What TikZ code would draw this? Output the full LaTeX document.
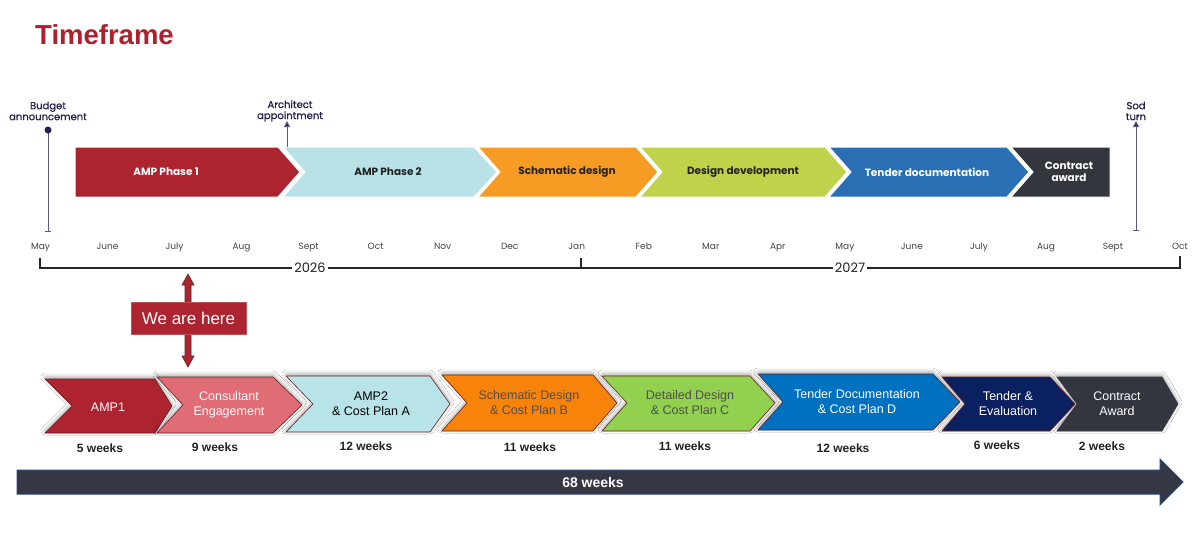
\documentclass[tikz,border=0pt]{standalone}
\usepackage{fontspec}
\setmainfont{Liberation Sans}
\newfontfamily\pop{Poppins}
\newfontfamily\popm{Poppins}[FakeBold=0.8]
\usetikzlibrary{shadows.blur,arrows.meta,calc}
\definecolor{tred}{HTML}{B0202C}
\definecolor{cA}{HTML}{AC2430}
\definecolor{cB}{HTML}{B8E2E6}
\definecolor{cC}{HTML}{F69C24}
\definecolor{cD}{HTML}{C0D24A}
\definecolor{cE}{HTML}{2A6FB4}
\definecolor{cF}{HTML}{33363D}
\definecolor{bA}{HTML}{AD2330}
\definecolor{bB}{HTML}{E06C75}
\definecolor{bC}{HTML}{B8E3E8}
\definecolor{bD}{HTML}{F7830A}
\definecolor{bE}{HTML}{92D050}
\definecolor{bF}{HTML}{0070C0}
\definecolor{bG}{HTML}{0B2060}
\definecolor{bH}{HTML}{33363F}
\definecolor{navy}{HTML}{24214F}
\definecolor{pline}{HTML}{5C5883}
\definecolor{chevline}{HTML}{6B2020}
\definecolor{txt}{HTML}{222222}
\definecolor{mon}{HTML}{444444}
\definecolor{bigarrow}{HTML}{353844}
\definecolor{bigline}{HTML}{2C4677}
\tikzset{
  tchev/.style={draw=white,line width=1pt},
  ttext/.style={font=\pop\bfseries\fontsize{10.5}{12}\selectfont,align=center},
  bchev/.style={draw=chevline,line width=0.6pt,blur shadow={shadow xshift=0pt,shadow yshift=2pt,shadow blur radius=4pt,shadow opacity=35}},
  btext/.style={font=\fontsize{12.5}{15}\selectfont,align=center},
  wk/.style={font=\bfseries\fontsize{12}{14}\selectfont,text=txt},
  month/.style={font=\pop\fontsize{9}{10}\selectfont,text=mon,anchor=base},
  marker/.style={font=\popm\fontsize{10}{11}\selectfont,text=navy,align=center},
}
\begin{document}
\begin{tikzpicture}[x=1pt,y=-1pt]
\useasboundingbox (0,0) rectangle (1200,557);
\fill[white] (0,0) rectangle (1200,557);
% title
\node[anchor=west,text=tred,font=\bfseries\fontsize{27.5}{30}\selectfont,inner sep=0] (title) at (35,35) {Timeframe};

% top chevrons
\fill[cA,tchev] (75,147) -- (278,147) -- (300,172) -- (278,197) -- (75,197) -- cycle;
\fill[cB,tchev] (283,147) -- (474,147) -- (497,172) -- (474,197) -- (283,197) -- (305,172) -- cycle;
\fill[cC,tchev] (478,147) -- (636,147) -- (658,172) -- (636,197) -- (478,197) -- (500,172) -- cycle;
\fill[cD,tchev] (640,147) -- (825,147) -- (847,172) -- (825,197) -- (640,197) -- (662,172) -- cycle;
\fill[cE,tchev] (829,147) -- (1007,147) -- (1029,172) -- (1007,197) -- (829,197) -- (851,172) -- cycle;
\fill[cF,tchev] (1011,147) -- (1110,147) -- (1110,197) -- (1011,197) -- (1033,172) -- cycle;
\node[ttext,text=white] (t1) at (166,172) {AMP Phase 1};
\node[ttext,text=txt] (t2) at (388,172) {AMP Phase 2};
\node[ttext,text=txt] (t3) at (567,172) {Schematic design};
\node[ttext,text=txt] (t4) at (743,172) {Design development};
\node[ttext,text=white] (t5) at (927,172) {Tender documentation};
\node[ttext,text=white] (t6) at (1069,172) {Contract\\award};

% markers
\node[marker] (budget) at (48,111) {Budget\\announcement};
\node[marker] (arch) at (290,111) {Architect\\appointment};
\node[marker] (sod) at (1136,111) {Sod\\turn};
\coordinate (bdot) at (48,130);
\coordinate (bbot) at (48,231);
\draw[pline,line width=1pt] (bdot) -- (bbot);
\draw[pline,line width=1pt] ($(bbot)+(-3,0)$) -- ($(bbot)+(3,0)$);
\fill[navy] (bdot) circle (3.5);
\coordinate (abot) at (287,147);
\coordinate (atop) at (287,121);
\draw[pline,line width=1pt,-{Triangle[length=6pt,width=6pt,fill=navy]}] (abot) -- (atop);
\coordinate (sbot) at (1136,230);
\coordinate (stop) at (1136,121);
\draw[pline,line width=1pt,-{Triangle[length=6pt,width=6pt,fill=navy]}] (sbot) -- (stop);
\draw[pline,line width=1pt] ($(sbot)+(-3,0)$) -- ($(sbot)+(3,0)$);

% months
\foreach \m [count=\i from 0] in {May,June,July,Aug,Sept,Oct,Nov,Dec,Jan,Feb,Mar,Apr,May,June,July,Aug,Sept,Oct}{
  \node[month] (m\i) at ({40.5+67.03*\i},249.5) {\m};
}
\coordinate (ya) at (40,258);
\coordinate (yb) at (40,268);
\coordinate (yc) at (1180,268);
\coordinate (yd) at (1180,256);
\draw[black!85,line width=1.2pt] (ya) -- (yb) -- (yc) -- (yd);
\draw[black!85,line width=1.2pt] (581,258) -- (581,268);
\node[fill=white,inner sep=2pt,font=\pop\fontsize{13}{14}\selectfont,text=txt] (y26) at (310,268) {2026};
\node[fill=white,inner sep=2pt,font=\pop\fontsize{13}{14}\selectfont,text=txt] (y27) at (850,268) {2027};

% we are here
\draw[fill=cA,draw=chevline,line width=0.6pt] (188,274) -- (194,285) -- (191,285) -- (191,356) -- (194,356) -- (188,367) -- (182,356) -- (185,356) -- (185,285) -- (182,285) -- cycle;
\node[fill=cA,draw=cA!80!white,minimum width=115pt,minimum height=32pt,inner sep=0,text=white,font=\fontsize{17}{19}\selectfont] (here) at (188.5,318.5) {We are here};

% bottom chevrons
\draw[bchev,fill=bA] (45,379) -- (155,379) -- (172,406) -- (155,433) -- (45,433) -- (72,406) -- cycle;
\draw[bchev,fill=bB] (157,377) -- (273,377) -- (302,405) -- (273,433) -- (157,433) -- (183,405) -- cycle;
\draw[bchev,fill=bC] (286,376) -- (430,376) -- (450,404) -- (430,432) -- (286,432) -- (313,404) -- cycle;
\draw[bchev,fill=bD] (442,375) -- (593,375) -- (617,403) -- (593,431) -- (442,431) -- (467,403) -- cycle;
\draw[bchev,fill=bE] (602,376) -- (750,376) -- (775,403) -- (750,431) -- (602,431) -- (627,403) -- cycle;
\draw[bchev,fill=bF] (758,374) -- (933,374) -- (960,402) -- (933,430) -- (758,430) -- (783,402) -- cycle;
\draw[bchev,fill=bG] (942,377) -- (1050,377) -- (1075,404) -- (1050,431) -- (942,431) -- (965,404) -- cycle;
\draw[bchev,fill=bH,draw=bH] (1057,377) -- (1162,377) -- (1178,404) -- (1162,431) -- (1057,431) -- (1077,404) -- cycle;
\node[btext,text=white] (s1) at (108,407) {AMP1};
\node[btext,text=white] (s2) at (229,405) {Consultant\\Engagement};
\node[btext,text=black] (s3) at (371,404) {AMP2\\\& Cost Plan A};
\node[btext,text=txt!80!white] (s4) at (529,403) {Schematic Design\\\& Cost Plan B};
\node[btext,text=txt!80!white] (s5) at (690,403) {Detailed Design\\\& Cost Plan C};
\node[btext,text=white] (s6) at (857,402) {Tender Documentation\\\& Cost Plan D};
\node[btext,text=white] (s7) at (1008,404) {Tender \&\\Evaluation};
\node[btext,text=white] (s8) at (1117,404) {Contract\\Award};
\node[wk] (w1) at (100,448) {5 weeks};
\node[wk] (w2) at (215,447) {9 weeks};
\node[wk] (w3) at (366,446) {12 weeks};
\node[wk] (w4) at (530,447) {11 weeks};
\node[wk] (w5) at (685,446) {11 weeks};
\node[wk] (w6) at (843,448) {12 weeks};
\node[wk] (w7) at (997,445) {6 weeks};
\node[wk] (w8) at (1102,446) {2 weeks};

% 68 weeks arrow
\draw[fill=bigarrow,draw=bigline,line width=1pt] (17,470) -- (1160,470) -- (1160,459) -- (1183,482) -- (1160,505) -- (1160,494) -- (17,494) -- cycle;
\node[text=white,font=\bfseries\fontsize{14}{16}\selectfont] (total) at (593,482) {68 weeks};
\end{tikzpicture}
\end{document}
